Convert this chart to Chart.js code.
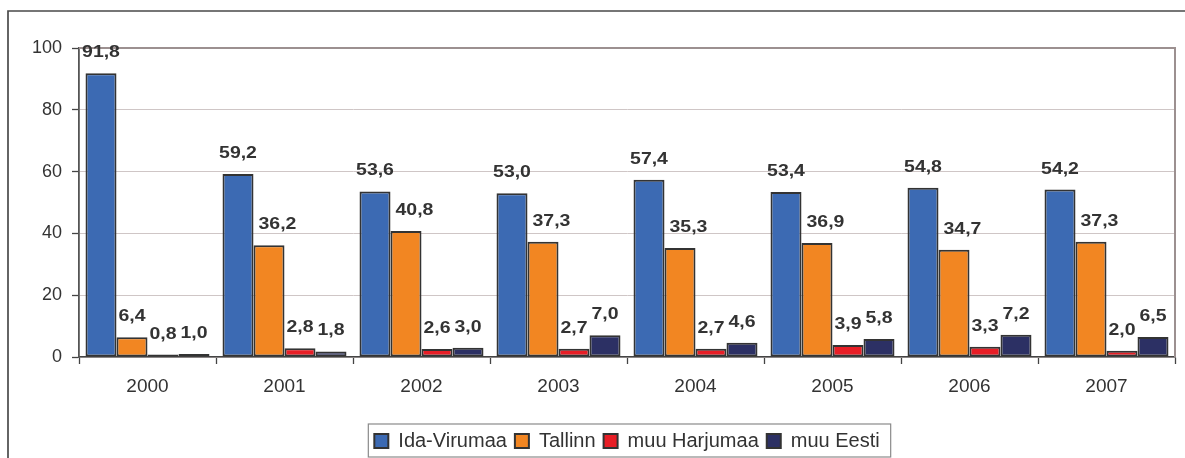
<!DOCTYPE html>
<html>
<head>
<meta charset="utf-8">
<script src="https://cdn.jsdelivr.net/npm/chart.js@4/dist/chart.umd.min.js"></script>
<style>
  html, body { margin: 0; padding: 0; background: #fff; }
  #wrap { width: 1185px; height: 458px; position: relative; }
</style>
</head>
<body>
<div id="wrap"><canvas id="chart1"></canvas></div>
<script>

// andmed
var aastad = ['2000', '2001', '2002', '2003', '2004', '2005', '2006', '2007'];
var idaVirumaa = [91.8, 59.2, 53.6, 53.0, 57.4, 53.4, 54.8, 54.2];
var tallinn = [6.4, 36.2, 40.8, 37.3, 35.3, 36.9, 34.7, 37.3];
var muuHarjumaa = [0.8, 2.8, 2.6, 2.7, 2.7, 3.9, 3.3, 2.0];
var muuEesti = [1.0, 1.8, 3.0, 7.0, 4.6, 5.8, 7.2, 6.5];
var yTicks = [0, 20, 40, 60, 80, 100];

var fontName = '"Liberation Sans", Arial, sans-serif';
var tekst = '#333333';


function fmt(v) {
  return v.toFixed(1).replace('.', ',');
}


// vaartused tulpade kohale (veidi laiem kiri nagu Excelis)
const silt = {
  id: 'silt',
  afterDatasetsDraw(chart) {
    const ctx = chart.ctx;
    const sx = 1.18;
    ctx.save();
    ctx.font = 'bold 16.5px ' + fontName;
    ctx.fillStyle = tekst;
    ctx.textAlign = 'left';
    ctx.textBaseline = 'alphabetic';

    chart.data.datasets.forEach(function(ds, di) {
      var meta = chart.getDatasetMeta(di);
      meta.data.forEach(function(bar, i) {
        var txt = fmt(ds.data[i]);
        var w = ctx.measureText(txt).width * sx;
        var base = bar.y - 16;
        var left = bar.x - w / 2;
        var barLeft = bar.x - bar.width / 2;
        if (di > 0 && left < barLeft) {
          var prev = chart.getDatasetMeta(di - 1).data[i];
          if (prev.y < base) {
            left = prev.x + prev.width / 2 + 5;
          }
        }
        ctx.save();
        ctx.translate(left, base);
        ctx.scale(sx, 1);
        ctx.fillText(txt, 0, 0);
        ctx.restore();
      });
    });
    ctx.restore();
  }
};


// raamid
const raam = {
  id: 'raam',
  beforeDatasetsDraw(chart) {
    const ctx = chart.ctx;
    const a = chart.chartArea;
    ctx.save();
    ctx.strokeStyle = '#9c9090';
    ctx.lineWidth = 2;
    ctx.beginPath();
    ctx.moveTo(a.left, a.top);
    ctx.lineTo(a.right, a.top);
    ctx.lineTo(a.right, a.bottom);
    ctx.stroke();
    ctx.restore();
  },
  afterDraw(chart) {
    const ctx = chart.ctx;
    ctx.save();
    ctx.strokeStyle = '#4a4a4a';
    ctx.lineWidth = 1.7;
    ctx.beginPath();
    ctx.moveTo(8, chart.height);
    ctx.lineTo(8, 11);
    ctx.lineTo(chart.width, 11);
    ctx.stroke();

    // legendi kast
    var hb = chart.legend.legendHitBoxes;
    if (hb && hb.length) {
      var l = hb[0].left - 6;
      var last = hb[hb.length - 1];
      var r = last.left + last.width + 11;
      var t = hb[0].top - 7;
      ctx.strokeStyle = '#8a8a8a';
      ctx.lineWidth = 1.2;
      ctx.strokeRect(l, t, r - l, 33);
    }
    ctx.restore();
  }
};


const ctx1 = document.getElementById('chart1').getContext('2d');
const chart1 = new Chart(ctx1, {
  type: 'bar',
  data: {
    labels: aastad,
    datasets: [
      {
        label: 'Ida-Virumaa',
        data: idaVirumaa,
        backgroundColor: '#3c6ab3',
        borderColor: '#333333',
        borderWidth: 2
      },
      {
        label: 'Tallinn',
        data: tallinn,
        backgroundColor: '#f28622',
        borderColor: '#333333',
        borderWidth: 2
      },
      {
        label: 'muu Harjumaa',
        data: muuHarjumaa,
        backgroundColor: '#e81e26',
        borderColor: '#333333',
        borderWidth: 2
      },
      {
        label: 'muu Eesti',
        data: muuEesti,
        backgroundColor: '#2c3064',
        borderColor: '#333333',
        borderWidth: 2
      }
    ]
  },
  options: {
    responsive: true,
    maintainAspectRatio: false,
    animation: false,
    datasets: {
      bar: {
        categoryPercentage: 0.905,
        barPercentage: 1.0,
        borderSkipped: false
      }
    },
    layout: {
      padding: { left: 0, right: 10, top: 48, bottom: -3 }
    },
    plugins: {
      tooltip: { enabled: false },
      legend: {
        position: 'bottom',
        fullSize: false,
        labels: {
          font: { family: fontName, size: 20 },
          color: tekst,
          boxWidth: 14,
          boxHeight: 14,
          padding: 8
        }
      }
    },
    scales: {
      x: {
        grid: {
          offset: true,
          drawOnChartArea: false,
          drawTicks: true,
          tickLength: 7,
          tickColor: '#444444',
          tickWidth: 1.3
        },
        border: { display: true, color: '#444444', width: 1.6 },
        ticks: {
          font: { family: fontName, size: 19 },
          color: tekst,
          padding: 11
        },
        afterFit: function(scale) {
          scale.height = 66;
        }
      },
      y: {
        min: 0,
        max: 100,
        afterBuildTicks: function(scale) {
          scale.ticks = yTicks.map(function(v) { return { value: v }; });
        },
        grid: {
          color: '#cfc6c6',
          lineWidth: 1,
          drawTicks: true,
          tickLength: 7,
          tickColor: '#444444',
          tickWidth: 1.3
        },
        border: { display: true, color: '#555555', width: 1.8 },
        ticks: {
          font: { family: fontName, size: 18 },
          color: tekst,
          padding: 10
        },
        afterFit: function(scale) {
          scale.width = 79;
        }
      }
    }
  },
  plugins: [raam, silt]
});

</script>
</body>
</html>
